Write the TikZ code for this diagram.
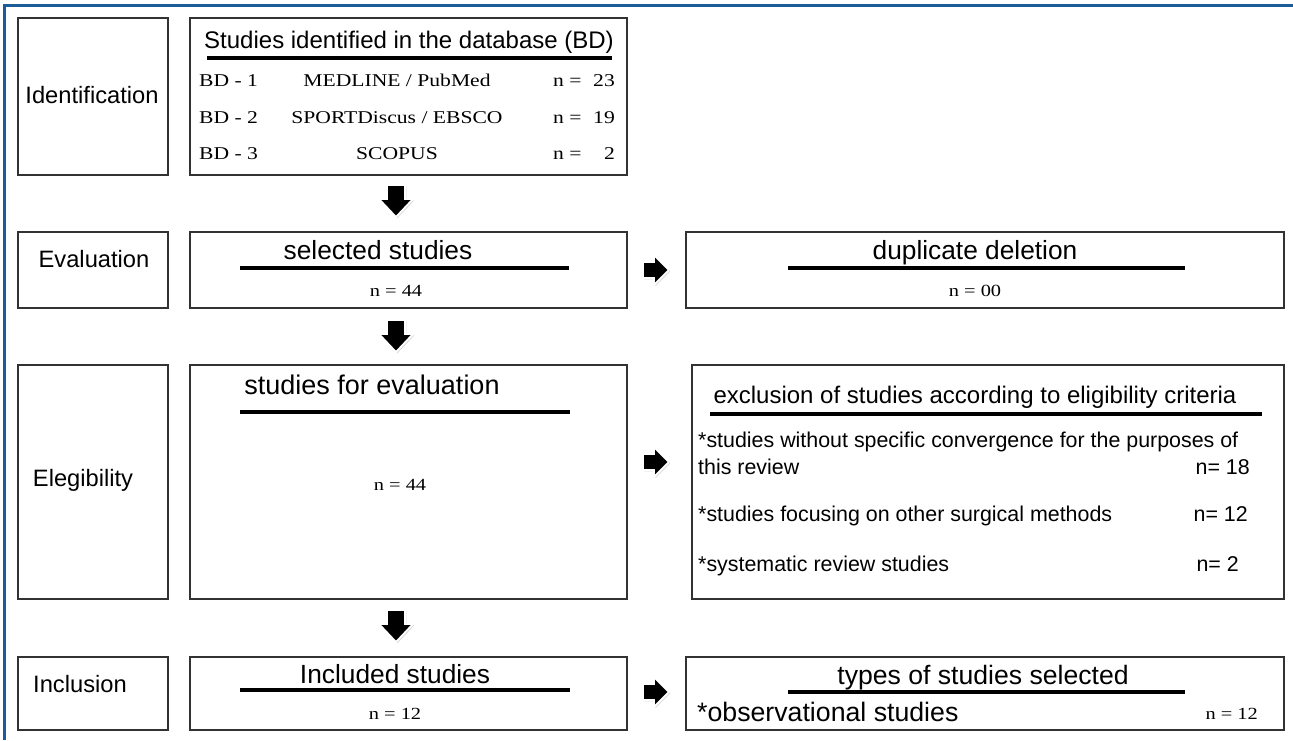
\documentclass[tikz,border=0pt]{standalone}
\usepackage{fontspec}
\setmainfont{Liberation Sans}
\newfontfamily\tnr{Liberation Serif}[FakeStretch=1.2]
\usetikzlibrary{shadows}
\definecolor{frameblue}{RGB}{28,92,152}
\definecolor{boxgray}{RGB}{50,50,50}
\tikzset{
  box/.style={draw=boxgray, line width=1.5pt, inner sep=0pt, anchor=north west},
  stage/.style={font=\fontsize{23.7}{26}\selectfont, inner sep=0pt, text height=0.72em, text depth=0pt, yshift=-5pt},
  head/.style={font=\fontsize{26.3}{28}\selectfont, inner sep=0pt, text height=0.72em, text depth=0pt, yshift=-5pt},
  item/.style={font=\fontsize{21.4}{24}\selectfont, inner sep=0pt, text height=0.72em, text depth=0pt, yshift=-5pt},
  db/.style={font=\tnr\fontsize{18}{20}\selectfont, inner sep=0pt, text height=0.66em, text depth=0pt, yshift=-3pt},
  cnt/.style={font=\tnr\fontsize{17}{20}\selectfont, inner sep=0pt, text height=0.66em, text depth=0pt, yshift=-3pt},
  uline/.style={line width=3.4pt},
  blockarrow/.style={fill=black, draw=white, line width=1.8pt, drop shadow={opacity=0.3,shadow xshift=1.3pt,shadow yshift=-1.3pt}},
  dnarrow/.pic={\path[blockarrow] (-9,0) -- (9,0) -- (9,14) -- (17,14) -- (0,32) -- (-17,14) -- (-9,14) -- cycle;},
  rtarrow/.pic={\path[blockarrow] (0,-8) -- (11,-8) -- (11,-15) -- (26,0) -- (11,15) -- (11,8) -- (0,8) -- cycle;}
}
\begin{document}
\begin{tikzpicture}[x=1pt,y=-1pt]
\useasboundingbox (0,0) rectangle (1293,740);
\fill[white] (0,0) rectangle (1293,740);
\draw[frameblue, line width=3pt] (4,740) -- (4,5) -- (1293,5);

% boxes
\node[box, minimum width=150pt, minimum height=157pt] (idl) at (17,17) {};
\node[box, minimum width=437pt, minimum height=157pt] (idb) at (189,17) {};
\node[box, minimum width=150pt, minimum height=76pt] (evl) at (17,231) {};
\node[box, minimum width=437pt, minimum height=76pt] (evb) at (189,231) {};
\node[box, minimum width=598pt, minimum height=76pt] (dup) at (685,231) {};
\node[box, minimum width=150pt, minimum height=234pt] (ell) at (17,364) {};
\node[box, minimum width=437pt, minimum height=234pt] (elb) at (189,364) {};
\node[box, minimum width=592pt, minimum height=234pt] (exc) at (691,364) {};
\node[box, minimum width=150pt, minimum height=73pt] (inl) at (17,656) {};
\node[box, minimum width=437pt, minimum height=73pt] (inb) at (189,656) {};
\node[box, minimum width=598pt, minimum height=73pt] (typ) at (685,656) {};

% arrows
\pic at (396,185) {dnarrow};
\pic at (396,320) {dnarrow};
\pic at (396,610) {dnarrow};
\pic at (643,270) {rtarrow};
\pic at (643,462) {rtarrow};
\pic at (643,692) {rtarrow};

% row 1
\node[stage] (tid) at (92,95) {Identification};
\node[head, font=\fontsize{24}{26}\selectfont] (tdb) at (409,40) {Studies identified in the database (BD)};
\draw[uline] (207,58) -- (612,58);
\node[db, anchor=west] (b1) at (199,80) {BD - 1};
\node[db] (m1) at (397,80) {MEDLINE / PubMed};
\node[db, anchor=west] (e1) at (553,80) {n =};
\node[db, anchor=east] (c1) at (615,80) {23};
\node[db, anchor=west] (b2) at (199,117) {BD - 2};
\node[db] (m2) at (397,117) {SPORTDiscus / EBSCO};
\node[db, anchor=west] (e2) at (553,117) {n =};
\node[db, anchor=east] (c2) at (615,117) {19};
\node[db, anchor=west] (b3) at (199,153) {BD - 3};
\node[db] (m3) at (397,153) {SCOPUS};
\node[db, anchor=west] (e3) at (553,153) {n =};
\node[db, anchor=east] (c3) at (615,153) {2};

% row 2
\node[stage] (tev) at (94,259) {Evaluation};
\node[head] (tsel) at (378,251) {selected studies};
\draw[uline] (240,268) -- (569,268);
\node[cnt] (nsel) at (396,290) {n = 44};
\node[head] (tdup) at (975,251) {duplicate deletion};
\draw[uline] (788,268) -- (1185,268);
\node[cnt] (ndup) at (975,290) {n = 00};

% row 3
\node[stage] (tel) at (83,478) {Elegibility};
\node[head, font=\fontsize{27}{29}\selectfont] (tfor) at (372,386) {studies for evaluation};
\draw[uline] (240,412) -- (570,412);
\node[cnt] (nfor) at (400,484) {n = 44};
\node[head, font=\fontsize{24}{26}\selectfont] (texc) at (975,395) {exclusion of studies according to eligibility criteria};
\draw[uline] (710,414) -- (1262,414);
\node[item, anchor=west] (x1) at (698,439) {*studies without specific convergence for the purposes of};
\node[item, anchor=west] (x2) at (698,466) {this review};
\node[item, anchor=east] (y1) at (1250,466) {n= 18};
\node[item, anchor=west] (x3) at (698,513) {*studies focusing on other surgical methods};
\node[item, anchor=east] (y2) at (1248,513) {n= 12};
\node[item, anchor=west] (x4) at (698,563) {*systematic review studies};
\node[item, anchor=east] (y3) at (1239,563) {n= 2};

% row 4
\node[stage] (tin) at (80,684) {Inclusion};
\node[head] (tinc) at (395,675) {Included studies};
\draw[uline] (240,690) -- (570,690);
\node[cnt] (ninc) at (395,713) {n = 12};
\node[head, font=\fontsize{26.6}{28}\selectfont] (ttyp) at (983,676) {types of studies selected};
\draw[uline] (788,692) -- (1185,692);
\node[head, font=\fontsize{26.7}{28}\selectfont, anchor=west] (tobs) at (697,713) {*observational studies};
\node[cnt, anchor=east] (ntyp) at (1258,713) {n = 12};
\end{tikzpicture}
\end{document}
